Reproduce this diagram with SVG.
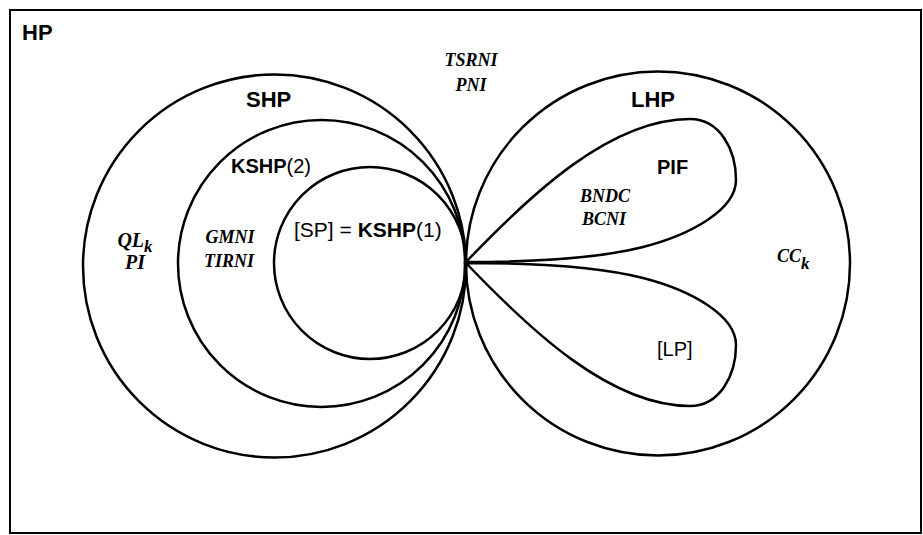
<svg xmlns="http://www.w3.org/2000/svg" width="923" height="535" viewBox="0 0 923 535">
<style>
.ln{fill:none;stroke:#000;stroke-width:2.5}
.sb{font-family:"Liberation Sans",Arial,sans-serif;font-weight:bold;fill:#000}
.sr{font-family:"Liberation Sans",Arial,sans-serif;font-weight:normal}
.ti{font-family:"Liberation Serif","Times New Roman",serif;font-weight:bold;font-style:italic;fill:#000}
</style>
<rect width="923" height="535" fill="#fff"/>
<g id="HP">
<rect x="10" y="10" width="911" height="523" fill="none" stroke="#000" stroke-width="2"/>
<text class="sb" x="22" y="40" font-size="22">HP</text>
<text class="ti" x="471" y="66" font-size="18" text-anchor="middle">TSRNI</text>
<text class="ti" x="471" y="91" font-size="18" text-anchor="middle">PNI</text>
</g>
<g id="SHP">
<circle class="ln" cx="274.5" cy="266" r="191.5"/>
<text class="sb" x="246" y="107" font-size="22">SHP</text>
<text class="ti" x="135" y="247" font-size="20" text-anchor="middle">QL<tspan font-size="17" dy="5">k</tspan></text>
<text class="ti" x="135" y="269" font-size="20" text-anchor="middle">PI</text>
</g>
<g id="KSHP2">
<circle class="ln" cx="321.5" cy="263.5" r="143.5"/>
<text class="sb" x="231" y="173" font-size="20">KSHP<tspan class="sr">(2)</tspan></text>
<text class="ti" x="230" y="243" font-size="18" text-anchor="middle">GMNI</text>
<text class="ti" x="229" y="267" font-size="18" text-anchor="middle">TIRNI</text>
</g>
<g id="SP">
<circle class="ln" cx="370" cy="263" r="96"/>
<text class="sb" x="294" y="237" font-size="21"><tspan class="sr">[SP] = </tspan>KSHP<tspan class="sr">(1)</tspan></text>
</g>
<g id="LHP">
<circle class="ln" cx="658" cy="263.5" r="192"/>
<text class="sb" x="631" y="107" font-size="22">LHP</text>
<text class="ti" x="777" y="262" font-size="18">CC<tspan font-size="17" dy="7">k</tspan></text>
</g>
<g id="PIF">
<path class="ln" d="M466,262 C530,195 610,119 690,119 C720,119 736,150 736,180 C736,210 690,235 643,247 C596,259 520,262 466,262 Z"/>
<text class="sb" x="657" y="174" font-size="20">PIF</text>
<text class="ti" x="605" y="202" font-size="18" text-anchor="middle">BNDC</text>
<text class="ti" x="604" y="225" font-size="18" text-anchor="middle">BCNI</text>
</g>
<g id="LP">
<path class="ln" d="M466,263 C530,330 610,406 690,406 C720,406 736,375 736,345 C736,315 690,290 643,278 C596,266 520,263 466,263 Z"/>
<text class="sr" x="657" y="356" font-size="20">[LP]</text>
</g>
<g id="connectors"></g>
</svg>
